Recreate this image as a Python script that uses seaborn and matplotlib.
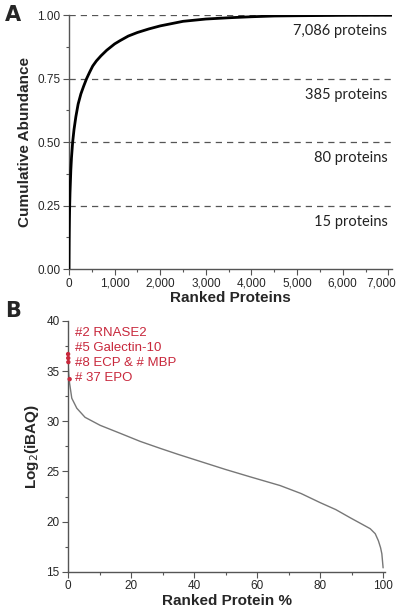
import seaborn as sns
import matplotlib.pyplot as plt
import matplotlib.ticker as mticker
import matplotlib.transforms as mtransforms
import pandas as pd

# Panel A: cumulative abundance over ranked proteins
rank_a = [0, 1, 2, 4, 7, 10, 15, 22, 30, 40, 55, 80, 110, 150, 200, 260, 320,
          385, 450, 520, 600, 700, 826, 1000, 1120, 1300, 1500, 1750, 2000,
          2500, 3000, 3500, 4000, 4500, 5000, 6000, 7086]
cum_abundance = [0.0, 0.03, 0.06, 0.11, 0.16, 0.20, 0.25, 0.30, 0.34, 0.39,
                 0.44, 0.50, 0.55, 0.60, 0.65, 0.69, 0.72, 0.75, 0.775, 0.80,
                 0.82, 0.84, 0.862, 0.887, 0.90, 0.918, 0.932, 0.946, 0.958,
                 0.976, 0.985, 0.990, 0.994, 0.997, 0.998, 0.9995, 1.0]
threshold_levels = [0.25, 0.50, 0.75, 1.00]
threshold_labels = ["15 proteins", "80 proteins", "385 proteins", "7,086 proteins"]

# Panel B: log2(iBAQ) over ranked protein %
rank_pct = [0, 0.2, 0.5, 1.2, 2.8, 5.4, 10.2, 16.6, 22.9, 29.3, 35, 42, 50,
            58, 67.3, 74, 80, 85, 89.5, 93, 95.9, 97.5, 98.5, 99.2, 99.6, 100]
log_ibaq = [36.0, 34.8, 33.8, 32.3, 31.3, 30.4, 29.6, 28.8, 28.0, 27.3, 26.7,
            26.0, 25.2, 24.45, 23.6, 22.8, 21.9, 21.2, 20.4, 19.8, 19.3, 18.8,
            18.1, 17.4, 16.8, 15.4]
marker_pct = [0.03, 0.07, 0.11, 0.52]
marker_val = [36.7, 36.3, 35.9, 34.2]
marker_labels = ["#2 RNASE2", "#5 Galectin-10", "#8 ECP & # MBP", "# 37 EPO"]

sns.set_style("ticks")
plt.rcParams['font.family'] = ['Liberation Sans', 'DejaVu Sans']

red = "#c8283c"
axis_grey = "#555555"

fig = plt.figure(figsize=(4.0, 6.09), dpi=100)
ax_a = fig.add_axes([0.1725, 0.558, 0.8075, 0.417])
ax_b = fig.add_axes([0.17, 0.061, 0.7925, 0.412])

# ---- Panel A
df_a = pd.DataFrame({"rank": rank_a, "cum": cum_abundance})
for lvl, lab in zip(threshold_levels, threshold_labels):
    ax_a.axhline(lvl, color="#555555", linestyle=(0, (5, 4)), linewidth=0.9, zorder=1)
    ax_a.text(6980, lvl - 0.035, lab, ha="right", va="top", fontsize=10.5,
              family=["Lato", "DejaVu Sans"], color="#222222")
sns.lineplot(data=df_a, x="rank", y="cum", ax=ax_a, color="black", linewidth=2.0, zorder=3)
ax_a.set_xlim(0, 7080)
ax_a.set_ylim(0, 1.0)
ax_a.xaxis.set_major_locator(mticker.MultipleLocator(1000))
ax_a.xaxis.set_minor_locator(mticker.MultipleLocator(500))
ax_a.xaxis.set_major_formatter(mticker.StrMethodFormatter("{x:,.0f}"))
ax_a.yaxis.set_major_locator(mticker.MultipleLocator(0.25))
ax_a.yaxis.set_minor_locator(mticker.MultipleLocator(0.125))
ax_a.yaxis.set_major_formatter(mticker.StrMethodFormatter("{x:.2f}"))
ax_a.set_xlabel("Ranked Proteins", fontsize=11, fontweight="bold", labelpad=1)
ax_a.set_ylabel("Cumulative Abundance", fontsize=11, fontweight="bold", labelpad=4)

# ---- Panel B
df_b = pd.DataFrame({"pct": rank_pct, "val": log_ibaq})
df_m = pd.DataFrame({"pct": marker_pct, "val": marker_val})
sns.lineplot(data=df_b, x="pct", y="val", ax=ax_b, color="#777777", linewidth=1.0)
sns.scatterplot(data=df_m, x="pct", y="val", ax=ax_b, color=red, s=10,
                edgecolor="none", zorder=4, clip_on=False)
label_y = [38.8, 37.3, 35.8, 34.3]
for ly, lab in zip(label_y, marker_labels):
    ax_b.text(2.2, ly, lab, color=red, fontsize=9.5, va="center", ha="left")
ax_b.set_xlim(0, 100.6)
ax_b.set_ylim(15, 40)
ax_b.xaxis.set_major_locator(mticker.MultipleLocator(20))
ax_b.xaxis.set_minor_locator(mticker.MultipleLocator(10))
ax_b.yaxis.set_major_locator(mticker.MultipleLocator(5))
ax_b.yaxis.set_minor_locator(mticker.MultipleLocator(2.5))
ax_b.set_xlabel("Ranked Protein %", fontsize=11, fontweight="bold", labelpad=1)
ax_b.set_ylabel("Log$_2$(iBAQ)", fontsize=11, fontweight="bold", labelpad=4)

for ax in (ax_a, ax_b):
    sns.despine(ax=ax)
    for side in ("left", "bottom"):
        ax.spines[side].set_color(axis_grey)
        ax.spines[side].set_linewidth(1.0)
    ax.tick_params(which="major", length=4, width=0.8, color=axis_grey,
                   labelsize=8.5, pad=2)
    ax.tick_params(which="minor", length=2, width=0.8, color=axis_grey)

# the last x label of panel A sits at the figure edge; nudge it inward
fig.canvas.draw()
shift = mtransforms.ScaledTranslation(-5 / 72, 0, fig.dpi_scale_trans)
last = [t for t in ax_a.get_xticklabels() if t.get_text() == "7,000"]
for t in last:
    t.set_transform(t.get_transform() + shift)

fig.text(0.012, 0.975, "A", fontsize=15, fontweight="bold", va="center",
         family=["DejaVu Sans"])
fig.text(0.012, 0.489, "B", fontsize=15, fontweight="bold", va="center",
         family=["DejaVu Sans"])

fig.savefig("out.png", dpi=100)
